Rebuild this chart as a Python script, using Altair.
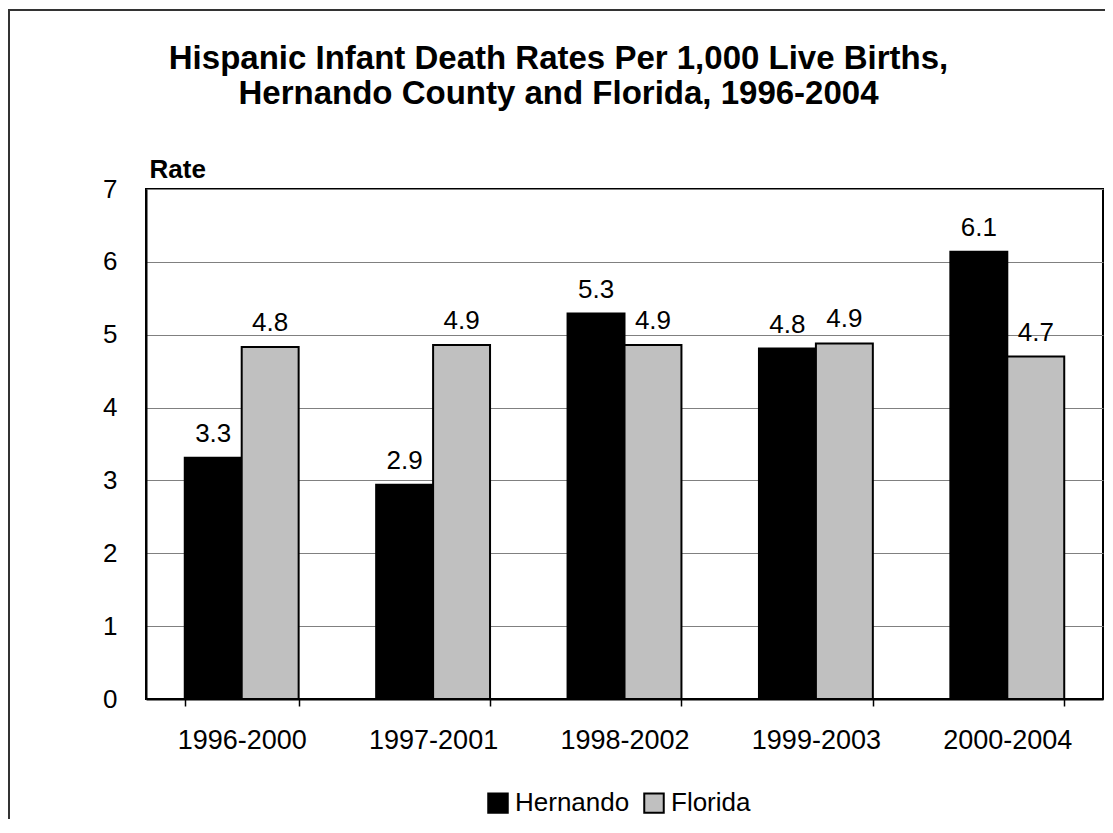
import altair as alt
import pandas as pd

periods = ["1996-2000", "1997-2001", "1998-2002", "1999-2003", "2000-2004"]
hernando = [3.31, 2.94, 5.29, 4.81, 6.14]
florida = [4.83, 4.86, 4.86, 4.88, 4.70]
series = ["Hernando", "Florida"]
colors = ["#000000", "#C0C0C0"]
title_lines = ["Hispanic Infant Death Rates Per 1,000 Live Births,",
               "Hernando County and Florida, 1996-2004"]
y_ticks = [0, 1, 2, 3, 4, 5, 6, 7]

rows = []
for i, p in enumerate(periods):
    rows.append({"period": p, "series": "Hernando", "rate": hernando[i]})
    rows.append({"period": p, "series": "Florida", "rate": florida[i]})
df = pd.DataFrame(rows)

FONT = "Liberation Sans"
W, H = 957, 510

x = alt.X("period:N", sort=periods, title=None,
          scale=alt.Scale(paddingInner=0.405, paddingOuter=0.2025),
          axis=alt.Axis(labelAngle=0, labelFontSize=27, labelFont=FONT, labelColor="black",
                        labelPadding=21, tickBand="extent", tickSize=7, tickColor="black",
                        tickWidth=1.5, domainColor="black", domainWidth=2, grid=False))
xo = alt.XOffset("series:N", sort=series, scale=alt.Scale(paddingInner=0, paddingOuter=0))
y = alt.Y("rate:Q", scale=alt.Scale(domain=[0, 7], nice=False),
          axis=alt.Axis(values=y_ticks, title="Rate", titleAngle=0, titleX=3, titleY=-12,
                        titleAlign="left", titleBaseline="alphabetic", titleFontSize=26,
                        titleFont=FONT, titleFontWeight="bold", titleColor="black",
                        labelFontSize=26, labelFont=FONT, labelColor="black", labelPadding=29,
                        ticks=False, domainColor="black", domainWidth=2,
                        gridColor="#808080", gridWidth=1, format="d"))

color = alt.Color("series:N", sort=series, scale=alt.Scale(domain=series, range=colors),
                  legend=alt.Legend(title=None, orient="none", legendX=339, legendY=601,
                                    direction="horizontal", symbolType="square", symbolSize=380,
                                    symbolStrokeColor="black", symbolStrokeWidth=2,
                                    symbolOpacity=1, labelFontSize=26, labelFont=FONT,
                                    labelColor="black", labelOffset=4, columnPadding=10,
                                    padding=0))

base = alt.Chart(df)
bars = base.mark_bar(stroke="black", strokeWidth=2, opacity=1).encode(
    x=x, xOffset=xo, y=y, color=color)
labels = base.mark_text(dy=-16, baseline="alphabetic", fontSize=26, font=FONT,
                        color="black").encode(
    x=x, xOffset=xo, y=y, text=alt.Text("rate:Q", format=".1f"))

border = alt.Chart(pd.DataFrame({"a": [0]})).mark_rect(
    fillOpacity=0, stroke="#333333", strokeWidth=2).encode(
    x=alt.value(-137), x2=alt.value(1300), y=alt.value(-179), y2=alt.value(1000))

chart = alt.layer(border, bars, labels).properties(
    width=W, height=H,
    padding={"left": 138, "top": 181, "right": 2, "bottom": 120},
    autosize=alt.AutoSizeParams(type="none"),
    title=alt.TitleParams(text=title_lines, anchor="middle", dx=-66, offset=-135,
                          baseline="bottom", fontSize=33, font=FONT, fontWeight="bold",
                          color="black", lineHeight=35),
    background="white",
).configure_view(stroke="black", strokeWidth=2)

chart.save("out.html", embed_options={"renderer": "svg", "actions": False})
